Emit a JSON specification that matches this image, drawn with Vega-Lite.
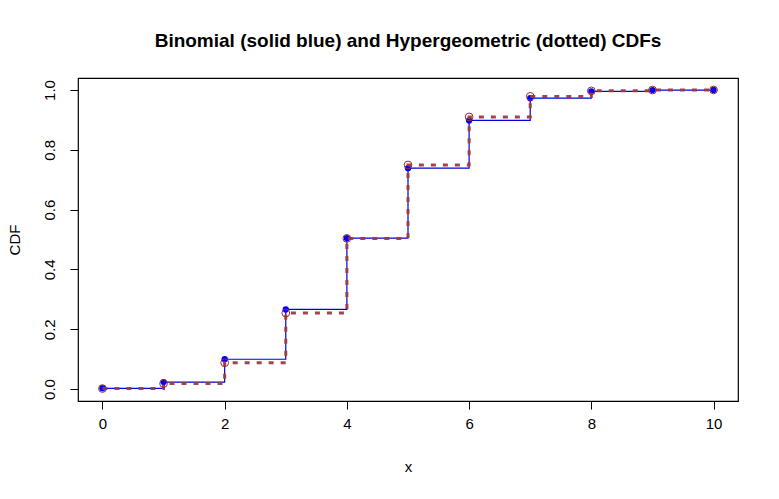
{
  "$schema": "https://vega.github.io/schema/vega-lite/v6.json",
  "width": 660,
  "height": 323,
  "autosize": {"type": "none"},
  "padding": {"left": 78, "top": 78, "right": 41, "bottom": 98},
  "background": "white",
  "config": {
    "font": "Liberation Sans",
    "view": {"stroke": "black", "strokeWidth": 1.2},
    "axis": {"grid": false, "domain": false, "tickColor": "black", "tickSize": 8, "tickWidth": 1, "labelColor": "black", "labelFontSize": 15, "titleColor": "black", "titleFontSize": 15, "titleFontWeight": "normal", "labelFont": "Liberation Sans", "titleFont": "Liberation Sans"}
  },
  "title": {"text": "Binomial (solid blue) and Hypergeometric (dotted) CDFs", "fontSize": 19, "fontWeight": "bold", "font": "Liberation Sans", "color": "black", "anchor": "middle", "offset": 27},
  "data": {"values": [
    {"x": 0, "dist": "binom", "F": 0.002533},
    {"x": 1, "dist": "binom", "F": 0.023257},
    {"x": 2, "dist": "binom", "F": 0.09956},
    {"x": 3, "dist": "binom", "F": 0.266038},
    {"x": 4, "dist": "binom", "F": 0.504405},
    {"x": 5, "dist": "binom", "F": 0.738438},
    {"x": 6, "dist": "binom", "F": 0.898008},
    {"x": 7, "dist": "binom", "F": 0.972611},
    {"x": 8, "dist": "binom", "F": 0.995501},
    {"x": 9, "dist": "binom", "F": 0.999663},
    {"x": 10, "dist": "binom", "F": 1.0},
    {"x": 0, "dist": "hyper", "F": 0.00169},
    {"x": 1, "dist": "hyper", "F": 0.01822},
    {"x": 2, "dist": "hyper", "F": 0.087856},
    {"x": 3, "dist": "hyper", "F": 0.254209},
    {"x": 4, "dist": "hyper", "F": 0.503739},
    {"x": 5, "dist": "hyper", "F": 0.749276},
    {"x": 6, "dist": "hyper", "F": 0.909758},
    {"x": 7, "dist": "hyper", "F": 0.978536},
    {"x": 8, "dist": "hyper", "F": 0.997028},
    {"x": 9, "dist": "hyper", "F": 0.999816},
    {"x": 10, "dist": "hyper", "F": 1.0}
  ]},
  "encoding": {
    "x": {"field": "x", "type": "quantitative", "title": "x", "scale": {"domain": [-0.4, 10.4], "nice": false, "zero": false}, "axis": {"values": [0, 2, 4, 6, 8, 10], "labelPadding": 7, "titlePadding": 28}},
    "y": {"field": "F", "type": "quantitative", "title": "CDF", "scale": {"domain": [-0.04, 1.04], "nice": false, "zero": false}, "axis": {"values": [0, 0.2, 0.4, 0.6, 0.8, 1.0], "format": ".1f", "labelAngle": -90, "labelAlign": "center", "labelBaseline": "bottom", "labelPadding": 13, "titlePadding": 20}}
  },
  "layer": [
    {"transform": [{"filter": "datum.dist === 'binom'"}], "mark": {"type": "line", "interpolate": "step-after", "color": "#0000E0", "strokeWidth": 1.2}},
    {"transform": [{"filter": "datum.dist === 'binom'"}], "mark": {"type": "point", "filled": true, "color": "#0000FF", "size": 40, "opacity": 1}},
    {"transform": [{"filter": "datum.dist === 'hyper'"}], "mark": {"type": "line", "interpolate": "step-after", "color": "#A03A3A", "strokeWidth": 3, "strokeDash": [5, 7], "strokeCap": "butt", "opacity": 0.95}},
    {"transform": [{"filter": "datum.dist === 'hyper'"}], "mark": {"type": "point", "filled": false, "color": "#A52A2A", "size": 60, "strokeWidth": 1, "opacity": 1}}
  ]
}
